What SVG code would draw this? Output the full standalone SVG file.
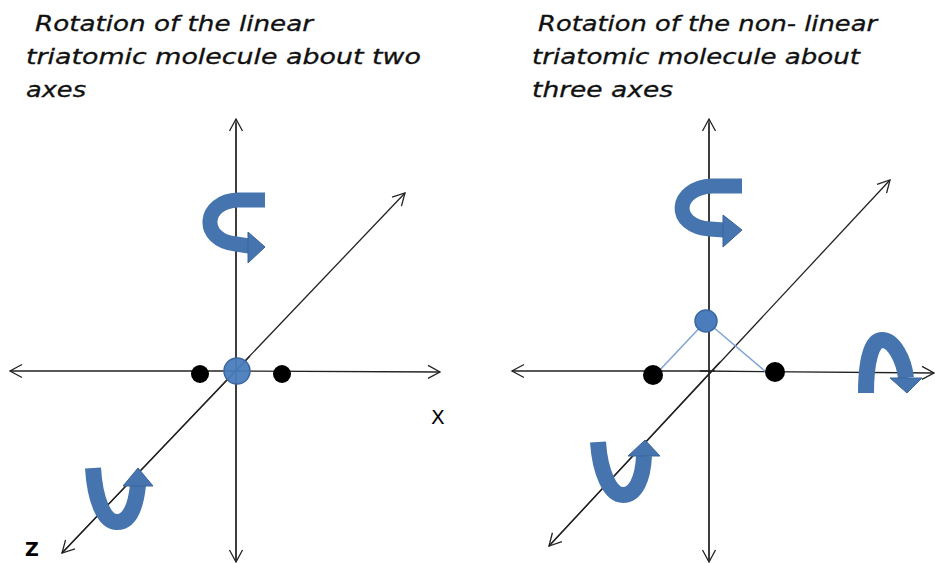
<svg xmlns="http://www.w3.org/2000/svg" width="935" height="563" viewBox="0 0 935 563">
<style>
.title{font-family:"DejaVu Sans","Liberation Sans",sans-serif;font-style:italic;font-size:21px;fill:#111;stroke:#111;stroke-width:0.3}
.axis{stroke:#222;stroke-width:1.3;fill:none}
.rot{fill:none;stroke:#4674ae;stroke-linecap:butt}
.head{fill:#4674ae;stroke:#3a659c;stroke-width:1}
.blue{fill:#4b7dbd;stroke:#3a68a3;stroke-width:1.5}
.black{fill:#000}
.bond{stroke:#7ea4d4;stroke-width:1.5}
.lbl{font-family:"DejaVu Sans","Liberation Sans",sans-serif;fill:#000}
</style>
<defs>
<marker id="ah" viewBox="0 0 16 16" refX="14" refY="8" markerWidth="16" markerHeight="16" markerUnits="userSpaceOnUse" orient="auto">
<polyline points="2,1.5 14,8 2,14.5" fill="none" stroke="#222" stroke-width="1.3"/>
</marker>
</defs>
<rect width="935" height="563" fill="#fff"/>
<g id="titles">
<text class="title" x="35" y="31" textLength="278" lengthAdjust="spacingAndGlyphs">Rotation of the linear</text>
<text class="title" x="26" y="64" textLength="395" lengthAdjust="spacingAndGlyphs">triatomic molecule about two</text>
<text class="title" x="26" y="97" textLength="60" lengthAdjust="spacingAndGlyphs">axes</text>
<text class="title" x="538" y="31" textLength="339" lengthAdjust="spacingAndGlyphs">Rotation of the non- linear</text>
<text class="title" x="532" y="64" textLength="328" lengthAdjust="spacingAndGlyphs">triatomic molecule about</text>
<text class="title" x="532" y="97" textLength="141" lengthAdjust="spacingAndGlyphs">three axes</text>
</g>
<g id="connectors">
<line class="axis" x1="236" y1="560" x2="236" y2="119" marker-end="url(#ah)"/>
<line class="axis" x1="236" y1="123" x2="236" y2="562" marker-end="url(#ah)"/>
<line class="axis" x1="240" y1="371" x2="10" y2="371" marker-end="url(#ah)"/>
<line class="axis" x1="230" y1="371" x2="440" y2="372" marker-end="url(#ah)"/>
<line class="axis" x1="62" y1="553" x2="405" y2="193" marker-end="url(#ah)"/>
<line class="axis" x1="250" y1="356" x2="62" y2="553" marker-end="url(#ah)"/>
<line class="axis" x1="709" y1="560" x2="709" y2="119" marker-end="url(#ah)"/>
<line class="axis" x1="709" y1="123" x2="709" y2="562" marker-end="url(#ah)"/>
<line class="axis" x1="715" y1="371" x2="512" y2="371" marker-end="url(#ah)"/>
<line class="axis" x1="700" y1="371" x2="934" y2="373" marker-end="url(#ah)"/>
<line class="axis" x1="549" y1="546" x2="890" y2="180" marker-end="url(#ah)"/>
<line class="axis" x1="720" y1="362" x2="549" y2="546" marker-end="url(#ah)"/>
</g>
<g id="rot-left-y">
<path class="rot" stroke-width="15" d="M265,200 L238,200 C203,201 199,240 236,244 L249,246"/>
<polygon class="head" points="248,232 265,247 248,263"/>
</g>
<g id="rot-left-z">
<path class="rot" stroke-width="16" d="M93,468 C95,500 104,522 117,522 C130,522 136,505 138,485"/>
<polygon class="head" points="123,486 138,468 153,486"/>
</g>
<g id="molecule-left">
<circle class="black" cx="200" cy="374" r="9"/>
<circle class="black" cx="282" cy="374" r="9"/>
<circle class="blue" cx="237" cy="371" r="13" fill-opacity="0.95"/>
</g>
<g id="rot-right-y">
<path class="rot" stroke-width="15" d="M742,186 L712,186 C674,188 671,226 710,229 L724,230"/>
<polygon class="head" points="723,215 742,230 723,247"/>
</g>
<g id="rot-right-z">
<path class="rot" stroke-width="16" d="M598,442 C600,472 610,495 623,495 C636,495 643,478 644,456"/>
<polygon class="head" points="628,456 645,440 660,456"/>
</g>
<g id="rot-right-x">
<path class="rot" stroke-width="16" d="M866,393 C866,360 872,340 882,340 C894,340 904,360 906,378"/>
<polygon class="head" points="890,378 907,393 922,378"/>
</g>
<g id="molecule-right">
<line class="bond" x1="706" y1="321" x2="657" y2="373"/>
<line class="bond" x1="706" y1="321" x2="773" y2="378"/>
<circle class="black" cx="653" cy="375" r="10"/>
<circle class="black" cx="775" cy="372" r="10"/>
<circle class="blue" cx="706" cy="321" r="11"/>
</g>
<g id="labels">
<text class="lbl" x="431" y="424" font-size="20">X</text>
<text class="lbl" x="25" y="556" font-size="19" font-weight="bold">Z</text>
</g>
</svg>
